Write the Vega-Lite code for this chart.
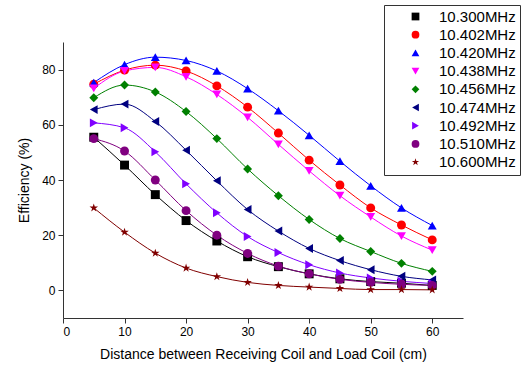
{
  "$schema": "https://vega.github.io/schema/vega-lite/v6.json",
  "width": 400,
  "height": 276,
  "autosize": {"type": "none"},
  "padding": {"left": 63, "top": 42, "right": 60, "bottom": 53},
  "background": "white",
  "config": {
    "view": {"stroke": null},
    "axis": {
      "grid": false,
      "domainColor": "#333333",
      "tickColor": "#333333",
      "labelFont": "Liberation Sans",
      "titleFont": "Liberation Sans",
      "labelFontSize": 12,
      "titleFontSize": 14,
      "titleFontWeight": "normal",
      "labelColor": "#000000",
      "titleColor": "#000000"
    },
    "legend": {
      "labelFont": "Liberation Sans",
      "labelFontSize": 15,
      "labelColor": "#000000"
    }
  },
  "data": {
    "values": [
      {"d": 5, "eff": 55.5, "f": "10.300MHz"}, {"d": 10, "eff": 45.4, "f": "10.300MHz"}, {"d": 15, "eff": 34.7, "f": "10.300MHz"}, {"d": 20, "eff": 25.3, "f": "10.300MHz"}, {"d": 25, "eff": 17.9, "f": "10.300MHz"}, {"d": 30, "eff": 12.2, "f": "10.300MHz"}, {"d": 35, "eff": 8.6, "f": "10.300MHz"}, {"d": 40, "eff": 6.0, "f": "10.300MHz"}, {"d": 45, "eff": 4.2, "f": "10.300MHz"}, {"d": 50, "eff": 3.2, "f": "10.300MHz"}, {"d": 55, "eff": 2.6, "f": "10.300MHz"}, {"d": 60, "eff": 1.8, "f": "10.300MHz"},
      {"d": 5, "eff": 74.7, "f": "10.402MHz"}, {"d": 10, "eff": 79.8, "f": "10.402MHz"}, {"d": 15, "eff": 81.6, "f": "10.402MHz"}, {"d": 20, "eff": 79.5, "f": "10.402MHz"}, {"d": 25, "eff": 74.1, "f": "10.402MHz"}, {"d": 30, "eff": 66.4, "f": "10.402MHz"}, {"d": 35, "eff": 57.0, "f": "10.402MHz"}, {"d": 40, "eff": 47.2, "f": "10.402MHz"}, {"d": 45, "eff": 38.2, "f": "10.402MHz"}, {"d": 50, "eff": 29.9, "f": "10.402MHz"}, {"d": 55, "eff": 23.7, "f": "10.402MHz"}, {"d": 60, "eff": 18.3, "f": "10.402MHz"},
      {"d": 5, "eff": 75.3, "f": "10.420MHz"}, {"d": 10, "eff": 81.8, "f": "10.420MHz"}, {"d": 15, "eff": 84.5, "f": "10.420MHz"}, {"d": 20, "eff": 83.3, "f": "10.420MHz"}, {"d": 25, "eff": 79.5, "f": "10.420MHz"}, {"d": 30, "eff": 73.1, "f": "10.420MHz"}, {"d": 35, "eff": 65.1, "f": "10.420MHz"}, {"d": 40, "eff": 56.2, "f": "10.420MHz"}, {"d": 45, "eff": 46.8, "f": "10.420MHz"}, {"d": 50, "eff": 37.9, "f": "10.420MHz"}, {"d": 55, "eff": 29.9, "f": "10.420MHz"}, {"d": 60, "eff": 23.5, "f": "10.420MHz"},
      {"d": 5, "eff": 73.2, "f": "10.438MHz"}, {"d": 10, "eff": 79.5, "f": "10.438MHz"}, {"d": 15, "eff": 80.8, "f": "10.438MHz"}, {"d": 20, "eff": 77.4, "f": "10.438MHz"}, {"d": 25, "eff": 71.0, "f": "10.438MHz"}, {"d": 30, "eff": 62.7, "f": "10.438MHz"}, {"d": 35, "eff": 52.9, "f": "10.438MHz"}, {"d": 40, "eff": 43.3, "f": "10.438MHz"}, {"d": 45, "eff": 34.3, "f": "10.438MHz"}, {"d": 50, "eff": 26.6, "f": "10.438MHz"}, {"d": 55, "eff": 19.7, "f": "10.438MHz"}, {"d": 60, "eff": 14.6, "f": "10.438MHz"},
      {"d": 5, "eff": 69.8, "f": "10.456MHz"}, {"d": 10, "eff": 74.4, "f": "10.456MHz"}, {"d": 15, "eff": 71.9, "f": "10.456MHz"}, {"d": 20, "eff": 64.8, "f": "10.456MHz"}, {"d": 25, "eff": 55.0, "f": "10.456MHz"}, {"d": 30, "eff": 44.0, "f": "10.456MHz"}, {"d": 35, "eff": 34.3, "f": "10.456MHz"}, {"d": 40, "eff": 25.7, "f": "10.456MHz"}, {"d": 45, "eff": 18.8, "f": "10.456MHz"}, {"d": 50, "eff": 14.1, "f": "10.456MHz"}, {"d": 55, "eff": 9.8, "f": "10.456MHz"}, {"d": 60, "eff": 6.9, "f": "10.456MHz"},
      {"d": 5, "eff": 65.5, "f": "10.474MHz"}, {"d": 10, "eff": 67.5, "f": "10.474MHz"}, {"d": 15, "eff": 61.2, "f": "10.474MHz"}, {"d": 20, "eff": 50.8, "f": "10.474MHz"}, {"d": 25, "eff": 39.7, "f": "10.474MHz"}, {"d": 30, "eff": 29.3, "f": "10.474MHz"}, {"d": 35, "eff": 21.5, "f": "10.474MHz"}, {"d": 40, "eff": 15.2, "f": "10.474MHz"}, {"d": 45, "eff": 10.8, "f": "10.474MHz"}, {"d": 50, "eff": 7.5, "f": "10.474MHz"}, {"d": 55, "eff": 5.1, "f": "10.474MHz"}, {"d": 60, "eff": 3.8, "f": "10.474MHz"},
      {"d": 5, "eff": 60.7, "f": "10.492MHz"}, {"d": 10, "eff": 58.9, "f": "10.492MHz"}, {"d": 15, "eff": 50.2, "f": "10.492MHz"}, {"d": 20, "eff": 38.6, "f": "10.492MHz"}, {"d": 25, "eff": 28.1, "f": "10.492MHz"}, {"d": 30, "eff": 19.5, "f": "10.492MHz"}, {"d": 35, "eff": 13.7, "f": "10.492MHz"}, {"d": 40, "eff": 9.3, "f": "10.492MHz"}, {"d": 45, "eff": 6.3, "f": "10.492MHz"}, {"d": 50, "eff": 4.5, "f": "10.492MHz"}, {"d": 55, "eff": 3.3, "f": "10.492MHz"}, {"d": 60, "eff": 2.5, "f": "10.492MHz"},
      {"d": 5, "eff": 55.0, "f": "10.510MHz"}, {"d": 10, "eff": 50.5, "f": "10.510MHz"}, {"d": 15, "eff": 40.0, "f": "10.510MHz"}, {"d": 20, "eff": 28.9, "f": "10.510MHz"}, {"d": 25, "eff": 20.0, "f": "10.510MHz"}, {"d": 30, "eff": 13.4, "f": "10.510MHz"}, {"d": 35, "eff": 8.8, "f": "10.510MHz"}, {"d": 40, "eff": 6.0, "f": "10.510MHz"}, {"d": 45, "eff": 4.0, "f": "10.510MHz"}, {"d": 50, "eff": 2.9, "f": "10.510MHz"}, {"d": 55, "eff": 2.2, "f": "10.510MHz"}, {"d": 60, "eff": 1.8, "f": "10.510MHz"},
      {"d": 5, "eff": 29.9, "f": "10.600MHz"}, {"d": 10, "eff": 21.1, "f": "10.600MHz"}, {"d": 15, "eff": 13.5, "f": "10.600MHz"}, {"d": 20, "eff": 8.1, "f": "10.600MHz"}, {"d": 25, "eff": 5.0, "f": "10.600MHz"}, {"d": 30, "eff": 2.9, "f": "10.600MHz"}, {"d": 35, "eff": 1.8, "f": "10.600MHz"}, {"d": 40, "eff": 1.2, "f": "10.600MHz"}, {"d": 45, "eff": 0.7, "f": "10.600MHz"}, {"d": 50, "eff": 0.3, "f": "10.600MHz"}, {"d": 55, "eff": 0.3, "f": "10.600MHz"}, {"d": 60, "eff": 0.2, "f": "10.600MHz"}
    ]
  },
  "layer": [
    {
      "mark": {"type": "line", "interpolate": "monotone", "strokeWidth": 1},
      "encoding": {
        "x": {"field": "d", "type": "quantitative", "scale": {"domain": [0, 65], "nice": false},
          "axis": {"values": [0, 5, 10, 15, 20, 25, 30, 35, 40, 45, 50, 55, 60, 65],
            "labelOverlap": false,
            "labelExpr": "datum.value % 10 === 0 && datum.value <= 60 ? datum.label : ''",
            "tickSize": {"condition": {"test": "datum.value % 10 === 0", "value": 5}, "value": 3},
            "labelPadding": 3, "title": "Distance between Receiving Coil and Load Coil (cm)", "titlePadding": 10}},
        "y": {"field": "eff", "type": "quantitative", "scale": {"domain": [-10, 90], "nice": false, "zero": false},
          "axis": {"values": [0, 20, 40, 60, 80], "tickSize": 5,
            "labelPadding": 3, "title": "Efficiency (%)", "titlePadding": 10}},
        "color": {"field": "f", "type": "nominal",
          "scale": {"domain": ["10.300MHz", "10.402MHz", "10.420MHz", "10.438MHz", "10.456MHz", "10.474MHz", "10.492MHz", "10.510MHz", "10.600MHz"],
            "range": ["#000000", "#FF0000", "#0000FF", "#FF00FF", "#008000", "#000080", "#8000FF", "#800080", "#800000"]},
          "legend": {"title": null, "orient": "none", "legendX": 321, "legendY": -37, "strokeColor": "#333333", "fillColor": "#FFFFFF", "padding": 4, "rowPadding": 2.2, "symbolOffset": 20, "labelOffset": 16, "symbolSize": 60, "symbolStrokeWidth": 0}}
      }
    },
    {
      "mark": {"type": "point", "filled": true, "size": 80, "opacity": 1},
      "encoding": {
        "x": {"field": "d", "type": "quantitative"},
        "y": {"field": "eff", "type": "quantitative"},
        "color": {"field": "f", "type": "nominal"},
        "shape": {"field": "f", "type": "nominal",
          "scale": {"domain": ["10.300MHz", "10.402MHz", "10.420MHz", "10.438MHz", "10.456MHz", "10.474MHz", "10.492MHz", "10.510MHz", "10.600MHz"],
            "range": ["square", "circle", "triangle-up", "triangle-down", "diamond", "triangle-left", "triangle-right", "circle", "M0,-1L0.2245,-0.309L0.951,-0.309L0.363,0.118L0.588,0.809L0,0.382L-0.588,0.809L-0.363,0.118L-0.951,-0.309L-0.2245,-0.309Z"]}}
      }
    }
  ]
}
